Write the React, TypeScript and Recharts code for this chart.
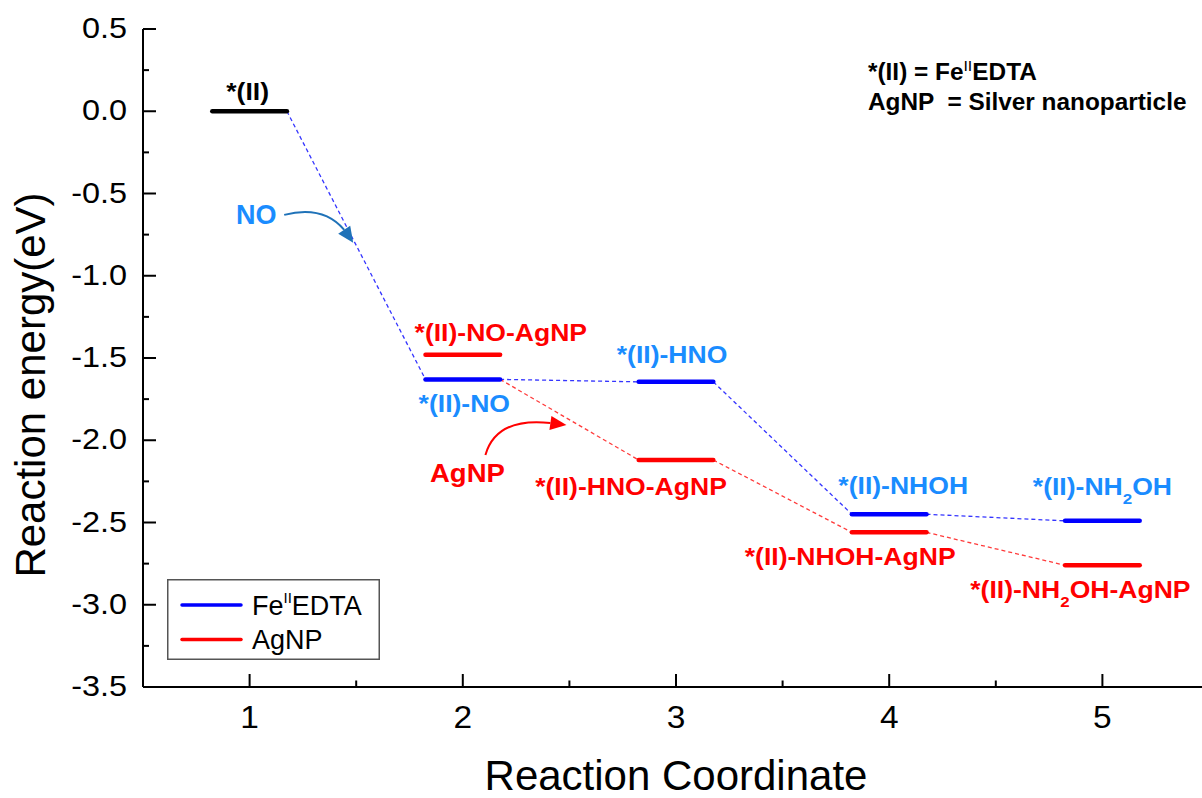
import React from 'react';
import { ComposedChart, Line, Scatter, XAxis, YAxis, Legend } from 'recharts';

const FONT = '"Liberation Sans", Arial, Helvetica, sans-serif';

// reaction steps and energies (eV)
const steps = [1, 2, 3, 4, 5];
const feEnergies = [0.0, -1.63, -1.645, -2.45, -2.49];
const agEnergies = [null, -1.48, -2.12, -2.56, -2.76];
const feNames = ['*(II)', '*(II)-NO', '*(II)-HNO', '*(II)-NHOH', '*(II)-NH_2OH'];
const agNames = ['', '*(II)-NO-AgNP', '*(II)-HNO-AgNP', '*(II)-NHOH-AgNP', '*(II)-NH_2OH-AgNP'];
// the AgNP pathway branches off the FeEDTA *(II)-NO level
const agBranchIndex = 1;

const xTicks = [1, 1.5, 2, 2.5, 3, 3.5, 4, 4.5, 5];
const yTicks = [0.5, 0.25, 0, -0.25, -0.5, -0.75, -1, -1.25, -1.5, -1.75, -2, -2.25, -2.5, -2.75, -3, -3.25, -3.5];

// arrow annotations: tip sits on the dashed path
const annotationX = [1.486, 2.486];
const annotationY = [-0.8, -1.907];
const annotationText = ['NO', 'AgNP'];

const legendNames = ['FeEDTA', 'AgNP'];

// layout
const HALF = 0.175;
const feLabelOffset = [[-2, -11], [1.5, 33], [-4, -19], [14, -20], [0, -26]];
const agLabelOffset = [[0, 0], [38, -14], [-45, 35], [-39, 32.5], [-22, 33]];

const FE_BAR = '#0000ff';
const AG_BAR = '#ff0000';
const FE_TEXT = '#1a8cff';
const AG_TEXT = '#ff0000';
const FE_DASH = '#3535ff';
const AG_DASH = '#ff3b3b';

function SText({ x, y, anchor = 'middle', size, sx = 1, weight = 'normal', fill = '#000', children }: any) {
  return (
    <text
      transform={`translate(${x},${y}) scale(${sx},1)`}
      textAnchor={anchor}
      fontSize={size}
      fontWeight={weight}
      fill={fill}
      fontFamily={FONT}
    >
      {children}
    </text>
  );
}

function nameSpans(name: string) {
  const parts = name.split('_');
  if (parts.length === 1) return name;
  return [
    <tspan key="a">{parts[0]}</tspan>,
    <tspan key="b" fontSize={15} dy={9}>{parts[1][0]}</tspan>,
    <tspan key="c" dy={-9}>{parts[1].slice(1)}</tspan>,
  ];
}

const isHalf = (v: number) => Math.abs(v * 2 - Math.round(v * 2)) < 1e-6;

const LeftTick = ({ x, y, payload }: any) => {
  const v = payload.value;
  const major = isHalf(v);
  return (
    <g>
      <line x1={x} y1={y} x2={x + (major ? 13 : 6)} y2={y} stroke="#000" strokeWidth={2} />
      {major && <SText x={x - 16} y={y + 9} anchor="end" size={30} sx={1.08}>{v.toFixed(1)}</SText>}
    </g>
  );
};

const RightTick = ({ x, y, payload }: any) => {
  const major = isHalf(payload.value);
  return <line x1={x} y1={y} x2={x - (major ? 13 : 6)} y2={y} stroke="#000" strokeWidth={2} />;
};

const BottomTick = ({ x, y, payload }: any) => {
  const v = payload.value;
  const major = Number.isInteger(v);
  return (
    <g>
      <line x1={x} y1={y} x2={x} y2={y - (major ? 13 : 6.5)} stroke="#000" strokeWidth={2} />
      {major && <SText x={x} y={y + 41} size={31} sx={1.08}>{String(v)}</SText>}
    </g>
  );
};

const TopTick = ({ x, y, payload }: any) => {
  const major = Number.isInteger(payload.value);
  return <line x1={x} y1={y} x2={x} y2={y + (major ? 13 : 6.5)} stroke="#000" strokeWidth={2} />;
};

const XTitle = (props: any) => {
  const vb = props.viewBox ?? { x: 143, y: 687, width: 1066, height: 111 };
  return <SText x={vb.x + vb.width / 2} y={vb.y + 103} size={42}>Reaction Coordinate</SText>;
};

const YTitle = (props: any) => {
  const vb = props.viewBox ?? { x: 0, y: 29, width: 143, height: 658 };
  const cx = vb.x + 45;
  const cy = vb.y + vb.height / 2 + 27;
  return (
    <text transform={`translate(${cx},${cy}) rotate(-90)`} textAnchor="middle" fontSize={42} fontFamily={FONT} fill="#000">
      Reaction energy(eV)
    </text>
  );
};

const LevelLabel = (props: any) => {
  const { cx, cy, payload } = props;
  if (cx == null || cy == null) return <g />;
  return (
    <SText x={cx + payload.dx} y={cy + payload.dy} size={23.5} sx={1.13} weight="bold" fill={payload.color}>
      {nameSpans(payload.text)}
    </SText>
  );
};

const Annotation = (props: any) => {
  const { cx, cy, payload } = props;
  if (cx == null || cy == null) return <g />;
  if (payload.text === 'NO') {
    const c = '#1f72b8';
    return (
      <g>
        <path d={`M${cx - 69},${cy - 28} Q${cx - 30},${cy - 38} ${cx - 9},${cy - 13}`} fill="none" stroke={c} strokeWidth={2} />
        <polygon points={`${cx},${cy} ${cx - 15},${cy - 9} ${cx - 3},${cy - 17}`} fill={c} />
        <SText x={cx - 97} y={cy - 19} size={27} weight="bold" fill={FE_TEXT}>NO</SText>
      </g>
    );
  }
  return (
    <g>
      <path d={`M${cx - 81},${cy + 30} Q${cx - 70},${cy - 8} ${cx - 16},${cy - 2}`} fill="none" stroke={AG_BAR} strokeWidth={2} />
      <polygon points={`${cx},${cy} ${cx - 17},${cy + 5} ${cx - 15},${cy - 9}`} fill={AG_BAR} />
      <SText x={cx - 99} y={cy + 57} size={25} sx={1.1} weight="bold" fill={AG_TEXT}>AgNP</SText>
    </g>
  );
};

const LegendBox = () => {
  const colors = [FE_BAR, AG_BAR];
  return (
    <svg width={213} height={81} style={{ display: 'block' }}>
      <rect x={0.75} y={0.75} width={211.5} height={79.5} fill="#fff" stroke="#555" strokeWidth={1.5} />
      {legendNames.map((n, i) => (
        <g key={n}>
          <line x1={15} x2={74} y1={26 + i * 34.5} y2={26 + i * 34.5} stroke={colors[i]} strokeWidth={3.5} strokeLinecap="round" />
          <text x={85} y={36 + i * 34} fontSize={27} fontFamily={FONT} fill="#000">
            {n === 'FeEDTA' ? (
              <>
                Fe<tspan fontSize={15} dy={-12}>II</tspan><tspan dy={12}>EDTA</tspan>
              </>
            ) : n}
          </text>
        </g>
      ))}
    </svg>
  );
};

export default function App() {
  const levelLines: any[] = [];
  steps.forEach((s, i) => {
    levelLines.push({
      key: `fe-${i}`,
      color: i === 0 ? '#000' : FE_BAR,
      data: [{ x: s - HALF, y: feEnergies[i] }, { x: s + HALF, y: feEnergies[i] }],
    });
    if (agEnergies[i] != null) {
      levelLines.push({
        key: `ag-${i}`,
        color: AG_BAR,
        data: [{ x: s - HALF, y: agEnergies[i] }, { x: s + HALF, y: agEnergies[i] }],
      });
    }
  });

  const connectors: any[] = [];
  for (let i = 0; i < steps.length - 1; i++) {
    connectors.push({
      key: `fe-c-${i}`,
      color: FE_DASH,
      data: [{ x: steps[i] + HALF, y: feEnergies[i] }, { x: steps[i + 1] - HALF, y: feEnergies[i + 1] }],
    });
    if (i >= agBranchIndex) {
      const from = i === agBranchIndex ? feEnergies[i] : agEnergies[i];
      connectors.push({
        key: `ag-c-${i}`,
        color: AG_DASH,
        data: [{ x: steps[i] + HALF, y: from }, { x: steps[i + 1] - HALF, y: agEnergies[i + 1] }],
      });
    }
  }

  const labelData = [
    ...steps.map((s, i) => ({
      x: s, y: feEnergies[i], text: feNames[i],
      color: i === 0 ? '#000' : FE_TEXT, dx: feLabelOffset[i][0], dy: feLabelOffset[i][1],
    })),
    ...steps
      .map((s, i) => ({
        x: s, y: agEnergies[i], text: agNames[i],
        color: AG_TEXT, dx: agLabelOffset[i][0], dy: agLabelOffset[i][1],
      }))
      .filter((d) => d.y != null),
  ];

  const annotationData = annotationX.map((x, i) => ({ x, y: annotationY[i], text: annotationText[i] }));

  return (
    <div style={{ position: 'absolute', left: 0, top: 0, width: 1202, height: 798, overflow: 'hidden', background: '#fff', fontFamily: FONT }}>
      <ComposedChart width={1215} height={798} margin={{ top: 29, right: 6, bottom: 0, left: 0 }}>
        <XAxis
          dataKey="x" type="number" domain={[0.5, 5.5]} ticks={xTicks} interval={0} allowDataOverflow
          height={111} tickSize={0} tickMargin={0} tickLine={false}
          axisLine={{ stroke: '#000', strokeWidth: 2 }} tick={<BottomTick />} label={<XTitle />}
        />
        <XAxis
          xAxisId="top" orientation="top" dataKey="x" type="number" domain={[0.5, 5.5]} ticks={xTicks} interval={0}
          height={0} tickSize={0} tickMargin={0} tickLine={false}
          axisLine={{ stroke: '#000', strokeWidth: 2 }} tick={<TopTick />}
        />
        <YAxis
          type="number" domain={[-3.5, 0.5]} ticks={yTicks} interval={0} allowDataOverflow
          width={143} tickSize={0} tickMargin={0} tickLine={false}
          axisLine={{ stroke: '#000', strokeWidth: 2 }} tick={<LeftTick />} label={<YTitle />}
        />
        <YAxis
          yAxisId="right" orientation="right" type="number" domain={[-3.5, 0.5]} ticks={yTicks} interval={0}
          width={0} tickSize={0} tickMargin={0} tickLine={false}
          axisLine={{ stroke: '#000', strokeWidth: 2 }} tick={<RightTick />}
        />
        <Legend
          layout="horizontal" verticalAlign="middle" align="center"
          wrapperStyle={{ left: 167, top: 579, width: 213, height: 81, margin: 0, padding: 0 }}
          content={<LegendBox />}
        />
        {connectors.map((c) => (
          <Line
            key={c.key} data={c.data} dataKey="y" stroke={c.color} strokeWidth={1.3} strokeDasharray="4 3"
            dot={false} activeDot={false} isAnimationActive={false} legendType="none"
          />
        ))}
        {levelLines.map((l) => (
          <Line
            key={l.key} data={l.data} dataKey="y" stroke={l.color} strokeWidth={4.5} strokeLinecap="round"
            dot={false} activeDot={false} isAnimationActive={false} legendType="none"
          />
        ))}
        <Scatter data={labelData} dataKey="y" shape={<LevelLabel />} isAnimationActive={false} legendType="none" />
        <Scatter data={annotationData} dataKey="y" shape={<Annotation />} isAnimationActive={false} legendType="none" />
      </ComposedChart>
      <svg width={1202} height={798} style={{ position: 'absolute', left: 0, top: 0, pointerEvents: 'none' }}>
        <text transform="translate(868,80) scale(1.06,1)" fontSize={23} fontWeight="bold" fontFamily={FONT} fill="#000">
          *(II) = Fe<tspan fontSize={15} fontWeight="normal" dy={-9}>II</tspan><tspan dy={9}>EDTA</tspan>
        </text>
        <text transform="translate(868,110) scale(1.06,1)" fontSize={23} fontWeight="bold" fontFamily={FONT} fill="#000" style={{ whiteSpace: 'pre' }}>
          {'AgNP  = Silver nanoparticle'}
        </text>
      </svg>
    </div>
  );
}
